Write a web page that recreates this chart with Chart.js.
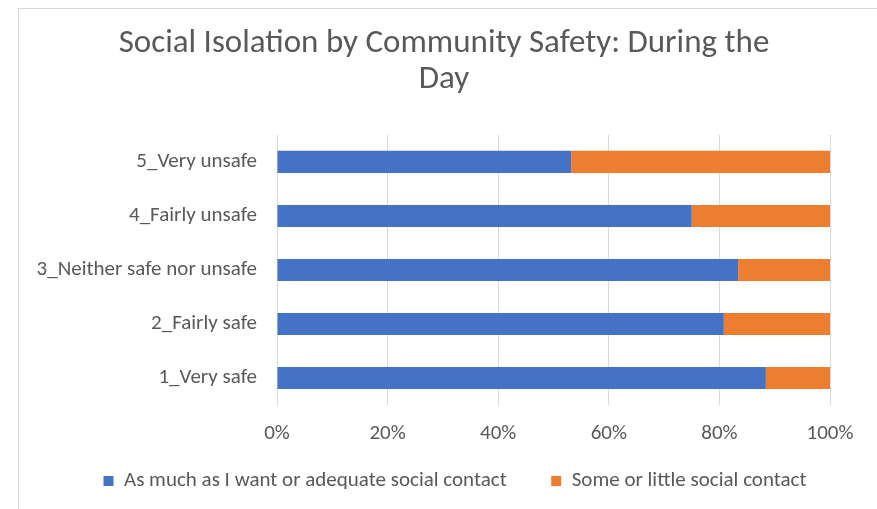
<!DOCTYPE html>
<html>
<head>
<meta charset="utf-8">
<script src="https://cdn.jsdelivr.net/npm/chart.js@4"></script>
<style>
  html, body { margin: 0; padding: 0; background: #fff; overflow: hidden; }
  #frame {
    position: absolute; left: 18px; top: 8px;
    width: 900px; height: 560px;
    border: 1px solid #d9d9d9; box-sizing: border-box;
  }
  #safetyChart { position: absolute; left: 18px; top: 8px; }
</style>
</head>
<body>
<div id="frame"></div>
<canvas id="safetyChart" width="852" height="501"></canvas>
<script>
// Data
const categories = ['5_Very unsafe', '4_Fairly unsafe', '3_Neither safe nor unsafe', '2_Fairly safe', '1_Very safe'];
const adequateContact = [53.2, 75.0, 83.4, 80.8, 88.4];
const littleContact = [46.8, 25.0, 16.6, 19.2, 11.6];
const seriesNames = ['As much as I want or adequate social contact', 'Some or little social contact'];
const xTicks = [0, 20, 40, 60, 80, 100];

const fontFamily = 'Carlito, "Liberation Sans Narrow", "Open Sans", sans-serif';
const textColor = '#595959';

// nudges the legend row a little to the right, as in the Excel original
const legendShift = {
    id: 'legendShift',
    afterLayout(chart) {
        chart.legend.left += 11;
        chart.legend.right += 11;
    }
};

document.addEventListener("DOMContentLoaded", function () {
    new Chart(document.getElementById('safetyChart'), {
        type: 'bar',
        data: {
            labels: categories,
            datasets: [{
                label: seriesNames[0],
                data: adequateContact,
                backgroundColor: '#4472C4',
                barPercentage: 0.41,
                categoryPercentage: 1
            }, {
                label: seriesNames[1],
                data: littleContact,
                backgroundColor: '#ED7D31',
                barPercentage: 0.41,
                categoryPercentage: 1
            }]
        },
        plugins: [legendShift],
        options: {
            indexAxis: 'y',
            responsive: false,
            animation: false,
            layout: { padding: { left: 0, right: 0, top: 0, bottom: 7.5 } },
            plugins: {
                title: {
                    display: true,
                    text: ['Social Isolation by Community Safety: During the', 'Day'],
                    color: textColor,
                    font: { family: fontFamily, size: 33, weight: 'normal', lineHeight: 1.09 },
                    padding: { top: 18, bottom: 37 }
                },
                legend: {
                    position: 'bottom',
                    labels: {
                        color: textColor,
                        font: { family: fontFamily, size: 21 },
                        boxWidth: 10,
                        boxHeight: 10,
                        padding: 23.5,
                        generateLabels: function (chart) {
                            const items = Chart.defaults.plugins.legend.labels.generateLabels(chart);
                            items[0].text += '\u2003';
                            return items;
                        }
                    }
                },
                tooltip: { enabled: false }
            },
            scales: {
                x: {
                    stacked: true,
                    min: 0,
                    max: 100,
                    afterBuildTicks: function (scale) {
                        scale.ticks = xTicks.map(v => ({ value: v }));
                    },
                    afterFit: function (scale) { scale.height = 42; },
                    ticks: {
                        color: textColor,
                        font: { family: fontFamily, size: 21 },
                        padding: 16,
                        callback: v => v + '%'
                    },
                    grid: { color: '#d9d9d9', lineWidth: 1, drawTicks: false },
                    border: { display: false }
                },
                y: {
                    stacked: true,
                    afterFit: function (scale) { scale.width = 259; },
                    ticks: {
                        color: textColor,
                        font: { family: fontFamily, size: 21 },
                        padding: 20
                    },
                    grid: { display: false, drawTicks: false },
                    border: { display: false }
                },
                // empty right-hand axis, keeps the plot clear of the right edge
                yRight: {
                    type: 'category',
                    labels: categories,
                    position: 'right',
                    afterFit: function (scale) { scale.width = 40; },
                    ticks: { display: false },
                    grid: { display: false, drawTicks: false },
                    border: { display: false }
                }
            }
        }
    });
});
</script>
</body>
</html>
